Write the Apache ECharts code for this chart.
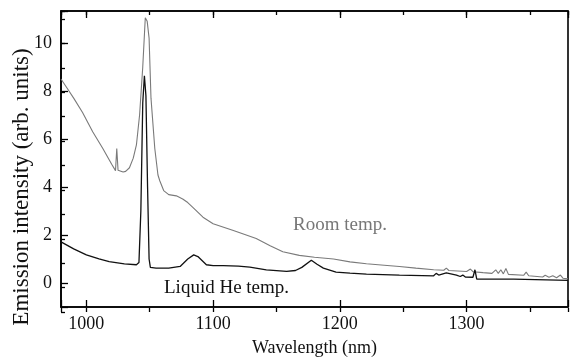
<!DOCTYPE html>
<html>
<head>
<meta charset="utf-8">
<script src="https://cdn.jsdelivr.net/npm/echarts@6/dist/echarts.min.js"></script>
<style>
  html, body { margin: 0; padding: 0; background: #fff; }
  #chart { width: 581px; height: 362px; }
</style>
</head>
<body>
<div id="chart"></div>
<script>
  // Room temperature spectrum (grey)
  const roomWl = [980, 985, 990, 997, 1005, 1013, 1020, 1023, 1024, 1025, 1029, 1031, 1034, 1037, 1039.5,
    1042, 1044.5, 1046.5, 1048, 1049.5, 1051, 1054, 1056.5, 1058, 1061, 1065, 1071, 1076, 1080, 1084,
    1092, 1100, 1116, 1134, 1145, 1155, 1168, 1180, 1195, 1208, 1221, 1235, 1247, 1260, 1274, 1282,
    1284, 1286, 1300, 1303, 1305, 1313, 1320, 1323, 1325, 1327, 1329, 1331, 1333, 1345, 1347, 1349,
    1360, 1362, 1365, 1368, 1371, 1374, 1376, 1380];
  const roomVal = [8.5, 8.1, 7.7, 7.1, 6.3, 5.6, 4.95, 4.68, 5.6, 4.7, 4.62, 4.65, 4.8, 5.2, 5.75,
    7.0, 9.0, 11.05, 10.9, 10.2, 7.7, 5.6, 4.5, 4.25, 3.85, 3.68, 3.63, 3.5, 3.35, 3.15,
    2.74, 2.47, 2.19, 1.85, 1.55, 1.3, 1.15, 1.07, 1.0, 0.88, 0.8, 0.74, 0.69, 0.62, 0.55, 0.53,
    0.62, 0.52, 0.48, 0.58, 0.47, 0.43, 0.4, 0.55, 0.4, 0.55, 0.38, 0.6, 0.36, 0.32, 0.45, 0.3,
    0.25, 0.32, 0.24, 0.3, 0.22, 0.33, 0.2, 0.17];

  // Liquid He temperature spectrum (black)
  const heWl = [980, 990, 1000, 1010, 1018, 1030, 1039.5, 1041.5, 1043, 1044.5, 1045.8, 1047, 1048.3,
    1049.5, 1050.5, 1055, 1065, 1074, 1080, 1084.7, 1088, 1094.7, 1100, 1108, 1120, 1129, 1142, 1158,
    1165, 1170, 1177.5, 1182, 1187, 1197, 1208, 1221, 1247, 1274, 1276, 1278, 1284, 1292, 1295, 1297,
    1299, 1305, 1306.6, 1308, 1337, 1380];
  const heVal = [1.71, 1.42, 1.17, 1.0, 0.89, 0.8, 0.76, 0.85, 3.0, 7.5, 8.63, 7.8, 4.0,
    1.0, 0.65, 0.62, 0.62, 0.69, 1.0, 1.17, 1.1, 0.76, 0.72, 0.72, 0.7, 0.66, 0.55, 0.48,
    0.52, 0.65, 0.95, 0.78, 0.62, 0.45, 0.41, 0.37, 0.33, 0.3, 0.4, 0.33, 0.42, 0.33, 0.27, 0.33,
    0.25, 0.24, 0.55, 0.16, 0.16, 0.11];

  const xMin = 980, xMax = 1380;
  const yMin = -1, yMax = 11.33;
  const xLabels = [1000, 1100, 1200, 1300];
  const yLabels = [0, 2, 4, 6, 8, 10];

  const font = "Liberation Serif";
  const pairs = (xs, ys) => xs.map((x, i) => [x, ys[i]]);

  const gridPos = { left: 61, right: 13, top: 11, bottom: 50 };
  const hide = { show: false };
  const tickStyle = { color: "#000", width: 1.3 };

  const xMajor = (pos, labels) => ({
    type: "value", gridIndex: 0, position: pos, min: xMin, max: xMax,
    minInterval: 100, maxInterval: 100,
    axisLine: { show: true, onZero: false, lineStyle: { color: "#000", width: 1.6 } },
    axisTick: { show: true, inside: true, length: 7, lineStyle: tickStyle },
    axisLabel: labels
      ? { show: true, margin: 8, fontFamily: font, fontSize: 18, color: "#111",
          formatter: v => (xLabels.includes(v) ? String(v) : "") }
      : hide,
    splitLine: hide,
  });
  const xMinor = pos => ({
    type: "value", gridIndex: 1, position: pos, min: xMin, max: xMax,
    minInterval: 50, maxInterval: 50,
    axisLine: { show: false, onZero: false },
    axisTick: { show: true, inside: true, length: 4, lineStyle: tickStyle },
    axisLabel: hide, splitLine: hide,
  });

  const chart = echarts.init(document.getElementById("chart"));
  chart.setOption({
    animation: false,
    backgroundColor: "#fff",
    grid: [
      Object.assign({ show: true, borderColor: "#000", borderWidth: 1.6, backgroundColor: "transparent" }, gridPos),
      Object.assign({ show: false }, gridPos),
    ],
    xAxis: [
      Object.assign(xMajor("bottom", true), {
        name: "Wavelength (nm)", nameLocation: "middle", nameGap: 32,
        nameTextStyle: { fontFamily: font, fontSize: 18, color: "#111" },
      }),
      xMajor("top", false),
      xMinor("bottom"),
      xMinor("top"),
    ],
    yAxis: [
      {
        type: "value", gridIndex: 0, position: "left", min: yMin, max: yMax,
        minInterval: 2, maxInterval: 2,
        axisLine: { show: true, onZero: false, lineStyle: { color: "#000", width: 1.6 } },
        axisTick: { show: true, inside: true, length: 7, lineStyle: tickStyle },
        axisLabel: { margin: 9, fontFamily: font, fontSize: 18, color: "#111",
          formatter: v => (yLabels.includes(v) ? String(v) : "") },
        splitLine: hide,
      },
      {
        type: "value", gridIndex: 1, position: "left", min: yMin, max: yMax,
        minInterval: 1, maxInterval: 1,
        axisLine: { show: false, onZero: false },
        axisTick: { show: true, inside: true, length: 4, lineStyle: tickStyle },
        axisLabel: hide, splitLine: hide,
      },
    ],
    graphic: [
      {
        type: "text", x: 22, y: 187, rotation: Math.PI / 2,
        style: { text: "Emission intensity (arb. units)", fontFamily: font, fontSize: 23,
          fill: "#111", textAlign: "center", textVerticalAlign: "middle" },
      },
      {
        type: "text", left: 293, top: 216,
        style: { text: "Room temp.", fontFamily: font, fontSize: 19, fill: "#777" },
      },
      {
        type: "text", left: 164, top: 279,
        style: { text: "Liquid He temp.", fontFamily: font, fontSize: 19, fill: "#111" },
      },
    ],
    series: [
      {
        name: "Room temp.", type: "line", xAxisIndex: 0, yAxisIndex: 0,
        data: pairs(roomWl, roomVal), showSymbol: false, symbol: "none",
        lineStyle: { color: "#7a7a7a", width: 1.1 },
      },
      {
        name: "Liquid He temp.", type: "line", xAxisIndex: 0, yAxisIndex: 0,
        data: pairs(heWl, heVal), showSymbol: false, symbol: "none",
        lineStyle: { color: "#111", width: 1.3 },
      },
    ],
  });
</script>
</body>
</html>
